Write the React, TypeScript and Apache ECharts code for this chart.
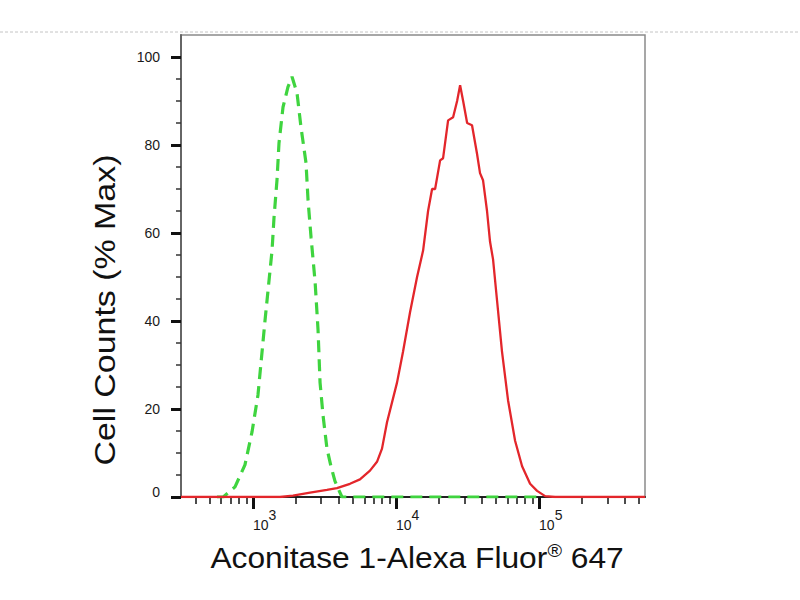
import React, { useEffect, useRef } from "react";
import * as echarts from "echarts";

// Red histogram (Aconitase 1 - Alexa Fluor 647)
const redX = [314, 1545, 1904, 2506, 3289, 3864, 4764, 5597, 6577, 7362, 7980, 8650, 10160, 11190, 12530, 14030, 15460, 16750, 17870, 18760, 20330, 21330, 23120, 25060, 26730, 28050, 29450, 31410, 33980, 36830, 38650, 40560, 43260, 45420, 47670, 50850, 55080, 60670, 67960, 76080, 86520, 96860, 110200, 129400, 550000];
const redY = [0, 0, 0.3, 1, 1.6, 2, 3, 4, 6, 8, 11, 17, 26, 33, 42, 50, 56, 65, 70, 70, 76.5, 77, 85.6, 86.3, 90, 93.6, 90, 85, 84.5, 78, 73.6, 72, 65, 58, 54, 44.6, 33, 22, 12.8, 7, 3, 1.4, 0.2, 0, 0];

// Green dashed histogram (isotype control)
const greenX = [560, 620, 749, 879, 985, 1084, 1213, 1359, 1403, 1472, 1520, 1622, 1757, 1875, 2032, 2167, 2349, 2427, 2547, 2717, 2850, 2944, 3090, 3290, 3508, 3742, 4188, 100000];
const greenY = [0, 0, 2.3, 7.3, 14.8, 23.2, 40, 56, 63.5, 72, 80.4, 88.6, 93.2, 95.5, 91.8, 84, 75.9, 67.4, 59, 49, 38, 26, 18.5, 11, 7, 3.6, 0, 0];

const yTicks = [0, 20, 40, 60, 80, 100];
const yMinorTicks = [5, 10, 15, 25, 30, 35, 45, 50, 55, 65, 70, 75, 85, 90, 95];
const xMajorTicks = [1000, 10000, 100000];
const xMinorTicks = [400, 500, 600, 700, 800, 900, 2000, 3000, 4000, 5000, 6000, 7000, 8000, 9000, 20000, 30000, 40000, 50000, 60000, 70000, 80000, 90000, 200000, 300000, 400000, 500000];
const X_MIN = 314;
const X_MAX = 550000;
const Y_MIN = 0;
const Y_MAX = 105;

const xTitleMain = "Aconitase 1-Alexa Fluor";
const xTitleMark = "®";
const xTitleEnd = " 647";
const yTitle = "Cell Counts (% Max)";

const FONT = '"Liberation Sans", Arial, sans-serif';

export default function App() {
  const ref = useRef<HTMLDivElement>(null);
  useEffect(() => {
    if (!ref.current) return;
    const chart = echarts.init(ref.current, undefined, { renderer: "svg" });
    const red = redX.map((x, i) => [x, redY[i]]);
    const green = greenX.map((x, i) => [x, greenY[i]]);
    chart.setOption({
      animation: false,
      backgroundColor: "#ffffff",
      textStyle: { fontFamily: FONT },
      grid: {
        left: 181,
        right: 155,
        top: 35,
        bottom: 103,
        show: true,
        borderColor: "#8a8a8a",
        borderWidth: 1.5,
        backgroundColor: "transparent",
      },
      xAxis: [
        {
          type: "log",
          logBase: 10,
          min: X_MIN,
          max: X_MAX,
          position: "bottom",
          axisLine: { show: true, lineStyle: { color: "#222", width: 2 } },
          axisTick: { show: true, customValues: xMajorTicks, length: 12, lineStyle: { color: "#111", width: 3 } },
          axisLabel: {
            show: true,
            customValues: xMajorTicks,
            align: "left",
            margin: 21,
            formatter: (v: number) => `{b|10}{s|${Math.round(Math.log10(v))}}`,
            rich: {
              b: { fontSize: 14, fontFamily: FONT, color: "#1a1a1a", verticalAlign: "bottom", lineHeight: 14 },
              s: { fontSize: 14, fontFamily: FONT, color: "#1a1a1a", verticalAlign: "bottom", lineHeight: 14, padding: [0, 0, 10, 0] },
            },
          },
          splitLine: { show: false },
        },
        {
          type: "log",
          logBase: 10,
          min: X_MIN,
          max: X_MAX,
          position: "bottom",
          axisLine: { show: false },
          axisTick: { show: true, customValues: xMinorTicks, length: 7, lineStyle: { color: "#111", width: 1.5 } },
          axisLabel: { show: false },
          splitLine: { show: false },
        },
      ],
      yAxis: [
        {
          type: "value",
          min: Y_MIN,
          max: Y_MAX,
          position: "left",
          axisLine: { show: true, lineStyle: { color: "#666", width: 2 } },
          axisTick: { show: true, customValues: yTicks, length: 10, lineStyle: { color: "#111", width: 3 } },
          axisLabel: {
            show: true,
            customValues: yTicks,
            margin: 21,
            formatter: (v: number) => (v === 0 ? `{z|0}` : `{n|${v}}`),
            rich: {
              n: { fontSize: 14, fontFamily: FONT, color: "#1a1a1a" },
              z: { fontSize: 14, fontFamily: FONT, color: "#1a1a1a", padding: [0, 0, 10, 0] },
            },
          },
          splitLine: { show: false },
        },
        {
          type: "value",
          min: Y_MIN,
          max: Y_MAX,
          position: "left",
          axisLine: { show: false },
          axisTick: { show: true, customValues: yMinorTicks, length: 5, lineStyle: { color: "#333", width: 1.5 } },
          axisLabel: { show: false },
          splitLine: { show: false },
        },
      ],
      series: [
        {
          type: "line",
          name: "Control",
          data: green,
          xAxisIndex: 0,
          yAxisIndex: 0,
          showSymbol: false,
          symbol: "none",
          smooth: false,
          lineStyle: { color: "#3fd43f", width: 3.2, type: [12, 7] },
          z: 3,
        },
        {
          type: "line",
          name: "Aconitase 1",
          data: red,
          xAxisIndex: 0,
          yAxisIndex: 0,
          showSymbol: false,
          symbol: "none",
          smooth: false,
          lineStyle: { color: "#e3262b", width: 2.3 },
          z: 4,
        },
      ],
      graphic: [
        {
          type: "line",
          shape: { x1: 0, y1: 32, x2: 800, y2: 32 },
          style: { stroke: "#c4c4c4", lineWidth: 1, lineDash: [3, 2] },
          silent: true,
        },
        {
          type: "text",
          x: 105,
          y: 310,
          rotation: Math.PI / 2,
          scaleX: 1.17,
          style: {
            text: yTitle,
            font: `29px ${FONT}`,
            fill: "#111",
            textAlign: "center",
            textVerticalAlign: "middle",
          },
        },
        {
          type: "text",
          x: 417,
          y: 557,
          scaleX: 1.095,
          style: {
            text: `{a|${xTitleMain}}{r|${xTitleMark}}{a|${xTitleEnd}}`,
            textAlign: "center",
            textVerticalAlign: "middle",
            rich: {
              a: { fontSize: 29, fontFamily: FONT, fill: "#111", verticalAlign: "bottom", lineHeight: 30 },
              r: { fontSize: 18, fontFamily: FONT, fill: "#111", verticalAlign: "bottom", lineHeight: 18, padding: [0, 0, 12, 0] },
            },
          },
        },
      ],
    });
    return () => chart.dispose();
  }, []);
  return <div ref={ref} style={{ position: "fixed", left: 0, top: 0, width: 800, height: 600 }} />;
}
